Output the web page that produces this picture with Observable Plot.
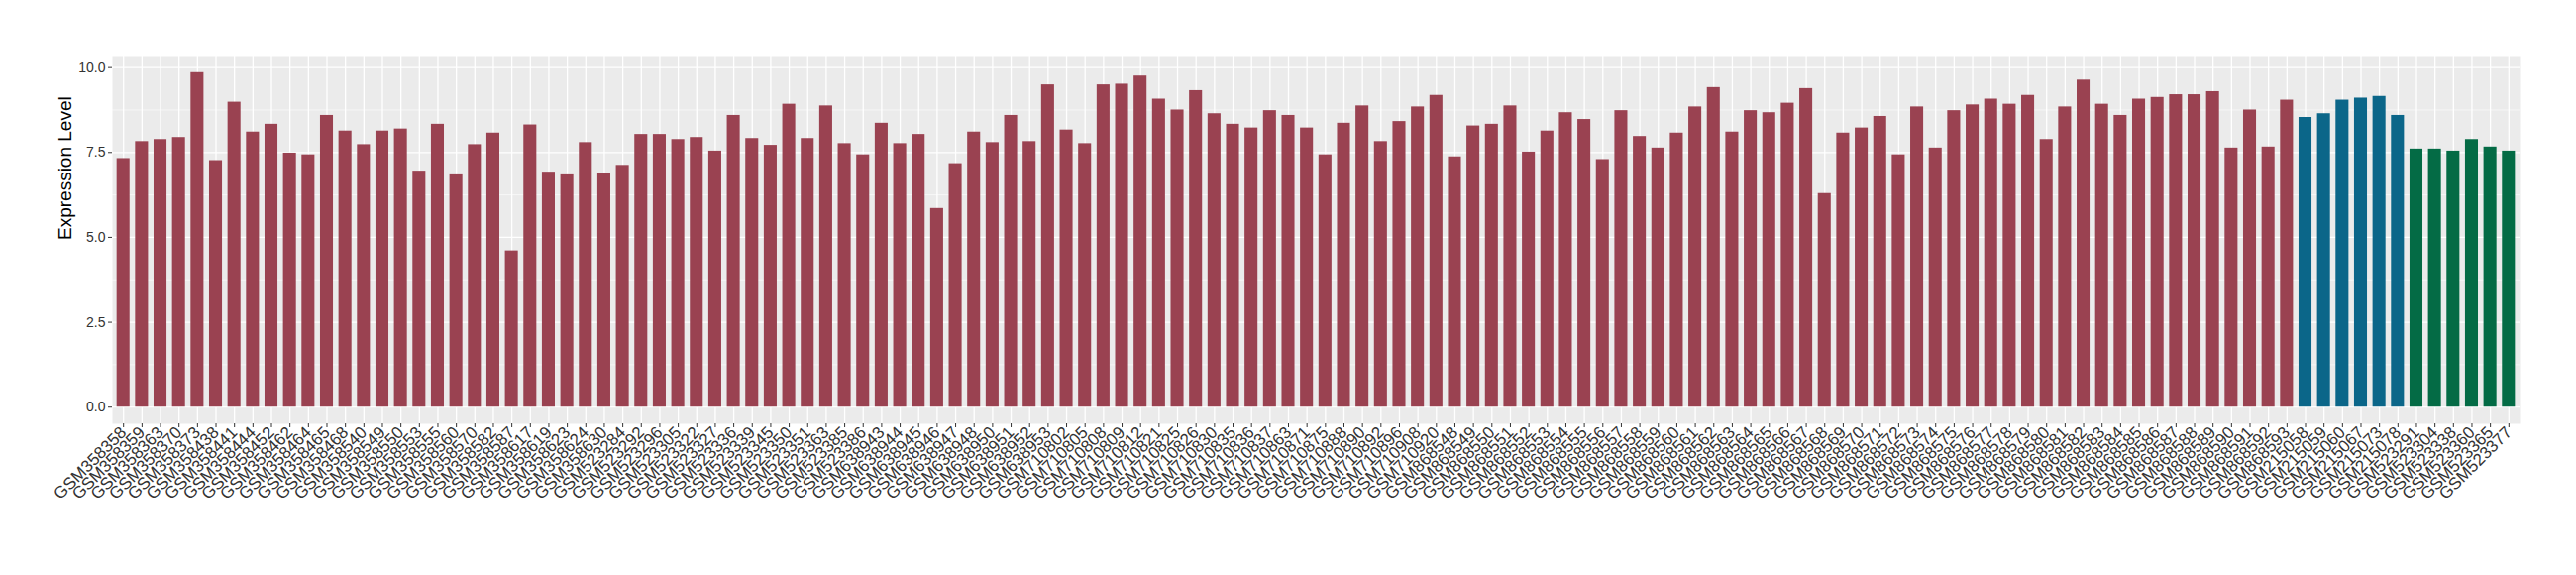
<!DOCTYPE html>
<html>
<head>
<meta charset="utf-8">
<script src="https://cdn.jsdelivr.net/npm/d3@7"></script>
<script src="https://cdn.jsdelivr.net/npm/@observablehq/plot@0.6"></script>
<style>
  html, body { margin: 0; padding: 0; background: #fff; }
  #chart svg { display: block; }
</style>
</head>
<body>
<div id="chart"></div>
<script>
// ---- data ----
const redIds = [
  "GSM358358","GSM358359","GSM358363","GSM358370","GSM358373","GSM358438","GSM358441","GSM358444","GSM358452","GSM358462",
  "GSM358464","GSM358465","GSM358468","GSM358540","GSM358549","GSM358550","GSM358553","GSM358555","GSM358560","GSM358570",
  "GSM358582","GSM358587","GSM358617","GSM358619","GSM358623","GSM358624","GSM358630","GSM523284","GSM523292","GSM523296",
  "GSM523305","GSM523322","GSM523327","GSM523336","GSM523339","GSM523345","GSM523350","GSM523351","GSM523363","GSM523385",
  "GSM523386","GSM638943","GSM638944","GSM638945","GSM638946","GSM638947","GSM638948","GSM638950","GSM638951","GSM638952",
  "GSM638953","GSM710802","GSM710805","GSM710808","GSM710809","GSM710812","GSM710821","GSM710825","GSM710826","GSM710830",
  "GSM710835","GSM710836","GSM710837","GSM710863","GSM710871","GSM710875","GSM710888","GSM710890","GSM710892","GSM710896",
  "GSM710908","GSM710920","GSM868548","GSM868549","GSM868550","GSM868551","GSM868552","GSM868553","GSM868554","GSM868555",
  "GSM868556","GSM868557","GSM868558","GSM868559","GSM868560","GSM868561","GSM868562","GSM868563","GSM868564","GSM868565",
  "GSM868566","GSM868567","GSM868568","GSM868569","GSM868570","GSM868571","GSM868572","GSM868573","GSM868574","GSM868575",
  "GSM868576","GSM868577","GSM868578","GSM868579","GSM868580","GSM868581","GSM868582","GSM868583","GSM868584","GSM868585",
  "GSM868586","GSM868587","GSM868588","GSM868589","GSM868590","GSM868591","GSM868592","GSM868593"
];
const redValues = [
  7.32,7.82,7.88,7.94,9.85,7.26,8.98,8.10,8.33,7.48,
  7.43,8.59,8.13,7.73,8.13,8.19,6.95,8.33,6.84,7.73,
  8.07,4.60,8.31,6.92,6.84,7.79,6.89,7.12,8.03,8.03,
  7.88,7.94,7.54,8.59,7.91,7.71,8.92,7.91,8.87,7.76,
  7.43,8.36,7.76,8.03,5.85,7.17,8.10,7.79,8.59,7.82,
  9.49,8.16,7.76,9.49,9.51,9.75,9.07,8.75,9.32,8.64,
  8.33,8.22,8.73,8.59,8.22,7.43,8.36,8.87,7.82,8.41,
  8.84,9.18,7.37,8.28,8.33,8.87,7.51,8.13,8.67,8.47,
  7.29,8.73,7.97,7.63,8.07,8.84,9.41,8.10,8.73,8.67,
  8.95,9.38,6.29,8.07,8.22,8.56,7.43,8.84,7.63,8.73,
  8.90,9.07,8.92,9.18,7.88,8.84,9.63,8.92,8.59,9.07,
  9.12,9.20,9.20,9.29,7.63,8.75,7.66,9.04
];
const blueIds = ["GSM215058","GSM215059","GSM215060","GSM215067","GSM215073","GSM215078"];
const blueValues = [8.53,8.64,9.04,9.10,9.15,8.59];
const greenIds = ["GSM523291","GSM523304","GSM523338","GSM523360","GSM523365","GSM523377"];
const greenValues = [7.60,7.60,7.54,7.88,7.66,7.54];

const groupNames = ["Group 1", "Group 2", "Group 3"];
const groupColors = ["#9A4251", "#0B6689", "#046B45"];
const yTicks = [0, 2.5, 5, 7.5, 10];
const yMinorTicks = [1.25, 3.75, 6.25, 8.75];
const yLabel = "Expression Level";

// ---- table built from the arrays ----
const rows = [
  ...redIds.map((id, i) => ({id, value: redValues[i], group: groupNames[0]})),
  ...blueIds.map((id, i) => ({id, value: blueValues[i], group: groupNames[1]})),
  ...greenIds.map((id, i) => ({id, value: greenValues[i], group: groupNames[2]}))
];
const ids = rows.map(d => d.id);

const chart = Plot.plot({
  width: 2600,
  height: 580,
  marginTop: 56,
  marginBottom: 153,
  marginLeft: 113,
  marginRight: 57,
  style: {fontFamily: "'Liberation Sans', Arial, Helvetica, sans-serif", background: "#fff"},
  x: {type: "band", domain: ids, paddingInner: 0.3, paddingOuter: 0.25, align: 0.5, label: null},
  y: {domain: [-0.49, 10.34], label: null},
  color: {type: "ordinal", domain: groupNames, range: groupColors},
  marks: [
    Plot.frame({fill: "#EBEBEB", stroke: "none"}),
    Plot.gridY(yMinorTicks, {stroke: "#fff", strokeOpacity: 1, strokeWidth: 0.6}),
    Plot.gridY(yTicks, {stroke: "#fff", strokeOpacity: 1, strokeWidth: 1.3}),
    Plot.gridX(ids, {stroke: "#fff", strokeOpacity: 1, strokeWidth: 1.3}),
    Plot.barY(rows, {x: "id", y: "value", fill: "group"}),
    Plot.axisY(yTicks, {tickFormat: d => d.toFixed(1), tickSize: 4, tickPadding: 3, fontSize: 14, color: "#333", stroke: "#333", label: null}),
    Plot.axisX(ids, {tickRotate: -45, tickSize: 4, tickPadding: 2, fontSize: 17, color: "#333", stroke: "#333", label: null}),
    Plot.text([yLabel], {frameAnchor: "left", rotate: -90, dx: -48, fontSize: 19, fill: "#000", text: d => d})
  ]
});
document.getElementById("chart").appendChild(chart);
</script>
</body>
</html>
